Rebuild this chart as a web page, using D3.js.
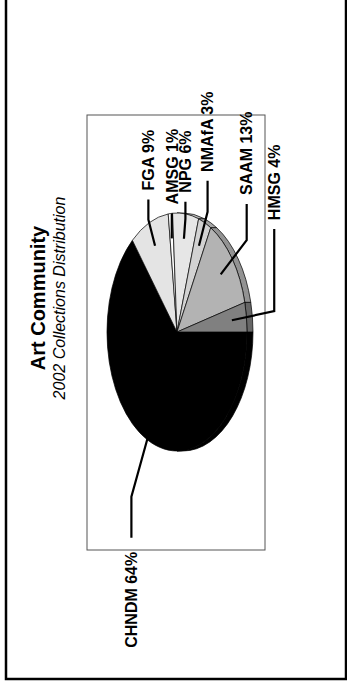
<!DOCTYPE html>
<html>
<head>
<meta charset="utf-8">
<script src="https://cdn.jsdelivr.net/npm/d3@7"></script>
<style>
  html, body { margin: 0; padding: 0; background: #fff; }
  svg { display: block; }
  text { font-family: "Liberation Sans", Arial, sans-serif; }
</style>
</head>
<body>
<svg id="chart" width="347" height="685"></svg>
<script>
// 2002 collection shares per museum unit (percent)
const categories = ["CHNDM", "FGA", "AMSG", "NPG", "NMAfA", "SAAM", "HMSG"];
const shares = [64, 9, 1, 6, 3, 13, 4];
const sliceColors = ["#000000", "#e4e4e4", "#ffffff", "#e6e6e6", "#d2d2d2", "#b3b3b3", "#808080"];
const rimColors = ["#000000", "#b8b8b8", "#cccccc", "#b8b8b8", "#a6a6a6", "#939393", "#666666"];
// leader layout: elbow distance (in pie radii) and horizontal arm length (px)
const leaderElbow = [1.53, 1.03, 0.79, 0.96, 1.1, 1.26, 1.4];
const leaderArm = [41, 20, 25, 17, 31, 36, 82];

const title = "Art Community";
const subtitle = "2002 Collections Distribution";

const svg = d3.select("#chart");
const W = 347, H = 685;

// outer page frame
svg.append("rect")
  .attr("x", 6).attr("y", -20).attr("width", 340).attr("height", 699)
  .attr("fill", "none").attr("stroke", "#000").attr("stroke-width", 2.5);

// the chart is laid out in landscape and turned a quarter turn
const g = svg.append("g").attr("transform", `translate(0,${H}) rotate(-90)`);

// plot area box
const plot = { u0: 135, u1: 570, v0: 87, v1: 265 };
g.append("rect")
  .attr("x", plot.u0).attr("y", plot.v0)
  .attr("width", plot.u1 - plot.u0).attr("height", plot.v1 - plot.v0)
  .attr("fill", "#fff").attr("stroke", "#555").attr("stroke-width", 1);

// titles
const titleU = 387;
g.append("text").attr("x", titleU).attr("y", 45)
  .attr("text-anchor", "middle").attr("font-weight", "bold").attr("font-size", 20)
  .text(title);
g.append("text").attr("x", titleU).attr("y", 65)
  .attr("text-anchor", "middle").attr("font-style", "italic").attr("font-size", 16)
  .text(subtitle);

// tilted pie
const cx = 353, cy = 177, rx = 119, ry = 70, depth = 6;
const pie = d3.pie().sort(null).startAngle(Math.PI).endAngle(3 * Math.PI);
const arcs = pie(shares);

const pt = (a, k = 1) => [cx + k * rx * Math.sin(a), cy - k * ry * Math.cos(a)];

function topPath(d) {
  const p0 = pt(d.startAngle), p1 = pt(d.endAngle);
  const large = (d.endAngle - d.startAngle) > Math.PI ? 1 : 0;
  return `M${cx},${cy}L${p0[0]},${p0[1]}A${rx},${ry} 0 ${large} 1 ${p1[0]},${p1[1]}Z`;
}

// front rim pieces (front half of the ellipse)
const windows = [[Math.PI / 2, 3 * Math.PI / 2], [5 * Math.PI / 2, 7 * Math.PI / 2]];
const rims = [];
arcs.forEach((d, i) => {
  windows.forEach(([w0, w1]) => {
    const b0 = Math.max(d.startAngle, w0), b1 = Math.min(d.endAngle, w1);
    if (b1 > b0) rims.push({ i, b0, b1 });
  });
});
function rimPath(r) {
  const p0 = pt(r.b0), p1 = pt(r.b1);
  const large = (r.b1 - r.b0) > Math.PI ? 1 : 0;
  return `M${p0[0]},${p0[1]}A${rx},${ry} 0 ${large} 1 ${p1[0]},${p1[1]}` +
         `L${p1[0]},${p1[1] + depth}A${rx},${ry} 0 ${large} 0 ${p0[0]},${p0[1] + depth}Z`;
}

g.append("g").selectAll("path").data(rims).join("path")
  .attr("d", rimPath)
  .attr("fill", r => rimColors[r.i])
  .attr("stroke", "#000").attr("stroke-width", 0.7).attr("stroke-linejoin", "round");

g.append("g").selectAll("path").data(arcs).join("path")
  .attr("d", topPath)
  .attr("fill", (d, i) => sliceColors[i])
  .attr("stroke", "#000").attr("stroke-width", 0.7).attr("stroke-linejoin", "round");

// leader lines and labels
const leaders = g.append("g");
arcs.forEach((d, i) => {
  const mid = (d.startAngle + d.endAngle) / 2;
  const inner = pt(mid, 0.79);
  const elbow = pt(mid, Math.max(leaderElbow[i], 0.79));
  const right = Math.sin(mid) > 0;
  const end = [elbow[0] + (right ? leaderArm[i] : -leaderArm[i]), elbow[1]];
  leaders.append("path")
    .attr("d", d3.line()([inner, elbow, end]))
    .attr("fill", "none").attr("stroke", "#000").attr("stroke-width", 2.2);
  leaders.append("text")
    .attr("x", end[0] + (right ? 9 : -14)).attr("y", end[1])
    .attr("dy", "0.36em")
    .attr("text-anchor", right ? "start" : "end")
    .attr("font-weight", "bold").attr("font-size", 16)
    .text(`${categories[i]} ${shares[i]}%`);
});
</script>
</body>
</html>
